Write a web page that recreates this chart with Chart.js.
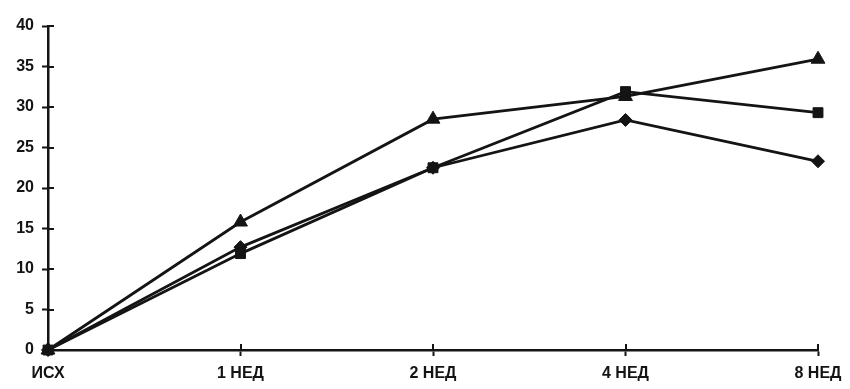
<!DOCTYPE html>
<html lang="ru">
<head>
<meta charset="utf-8">
<title>Динамика показателя</title>
<script src="https://cdn.jsdelivr.net/npm/chart.js@4/dist/chart.umd.min.js"></script>
<style>
    html, body { margin: 0; padding: 0; background: #fff; }
    .chart-card { width: 850px; height: 389px; position: relative; }
</style>
</head>
<body>
<div class="chart-card">
    <canvas id="plotWeeks" role="img" aria-label="Динамика по неделям"></canvas>
</div>
<script>
'use strict';

const weekLabels = ["ИСХ", "1 НЕД", "2 НЕД", "4 НЕД", "8 НЕД"];
const seriesDiamond = [0, 12.7, 22.5, 28.4, 23.3];
const seriesSquare = [0, 11.9, 22.5, 31.9, 29.3];
const seriesTriangle = [0, 15.8, 28.5, 31.3, 35.9];
const yTicks = [0, 5, 10, 15, 20, 25, 30, 35, 40];

(function () {
    const ink = "#141414";

    // Chart.js only draws tick marks outside the axis; the original has them crossing it.
    const crossTicksPlugin = {
        id: "crossTicks",
        afterDraw(chart) {
            const ctx = chart.ctx;
            const area = chart.chartArea;
            const x = chart.scales.x;
            const y = chart.scales.y;
            ctx.save();
            ctx.strokeStyle = ink;
            ctx.lineWidth = 2;
            ctx.beginPath();
            y.ticks.forEach((tick, i) => {
                const py = Math.round(y.getPixelForTick(i));
                ctx.moveTo(area.left, py);
                ctx.lineTo(area.left + 6, py);
            });
            x.ticks.forEach((tick, i) => {
                if (i === 0) return;
                const px = Math.round(x.getPixelForTick(i));
                ctx.moveTo(px, area.bottom);
                ctx.lineTo(px, area.bottom - 6);
            });
            ctx.stroke();
            ctx.restore();
        }
    };

    function makeDataset(label, data, pointStyle, radius) {
        return {
            label,
            data,
            borderColor: ink,
            backgroundColor: ink,
            borderWidth: 2.8,
            pointStyle,
            pointRadius: radius,
            pointBackgroundColor: ink,
            pointBorderColor: ink,
            pointBorderWidth: 1,
            tension: 0,
            fill: false,
            clip: false,
        };
    }

    const ctx = document.getElementById("plotWeeks").getContext("2d");
    new Chart(ctx, {
        type: "line",
        data: {
            labels: weekLabels,
            datasets: [
                makeDataset("Ряд 1", seriesDiamond, "rectRot", 6.5),
                makeDataset("Ряд 2", seriesSquare, "rect", 7),
                makeDataset("Ряд 3", seriesTriangle, "triangle", 8),
            ]
        },
        options: {
            responsive: true,
            maintainAspectRatio: false,
            animation: false,
            layout: { padding: { top: 26, right: 32, bottom: 0, left: 0 } },
            plugins: {
                legend: { display: false },
                tooltip: { enabled: false },
            },
            scales: {
                x: {
                    offset: false,
                    grid: {
                        drawOnChartArea: false,
                        drawTicks: true,
                        tickLength: 6,
                        tickWidth: 2,
                        tickColor: ink,
                    },
                    border: { display: true, color: ink, width: 2.5 },
                    ticks: {
                        color: ink,
                        padding: 8,
                        maxRotation: 0,
                        autoSkip: false,
                        font: { family: "'Liberation Sans Narrow', 'Liberation Sans', Arial, sans-serif", size: 16, weight: "bold" },
                    },
                    afterFit(scale) { scale.height = 39; },
                },
                y: {
                    min: 0,
                    max: 40,
                    afterBuildTicks(scale) {
                        scale.ticks = yTicks.map(v => ({ value: v }));
                    },
                    grid: {
                        drawOnChartArea: false,
                        drawTicks: true,
                        tickLength: 6,
                        tickWidth: 2,
                        tickColor: ink,
                    },
                    border: { display: true, color: ink, width: 2.5 },
                    ticks: {
                        color: ink,
                        padding: 8,
                        font: { family: "'Liberation Sans', Arial, sans-serif", size: 16, weight: "bold" },
                    },
                    afterFit(scale) { scale.width = 48; },
                },
            },
        },
        plugins: [crossTicksPlugin],
    });
})();
</script>
</body>
</html>
